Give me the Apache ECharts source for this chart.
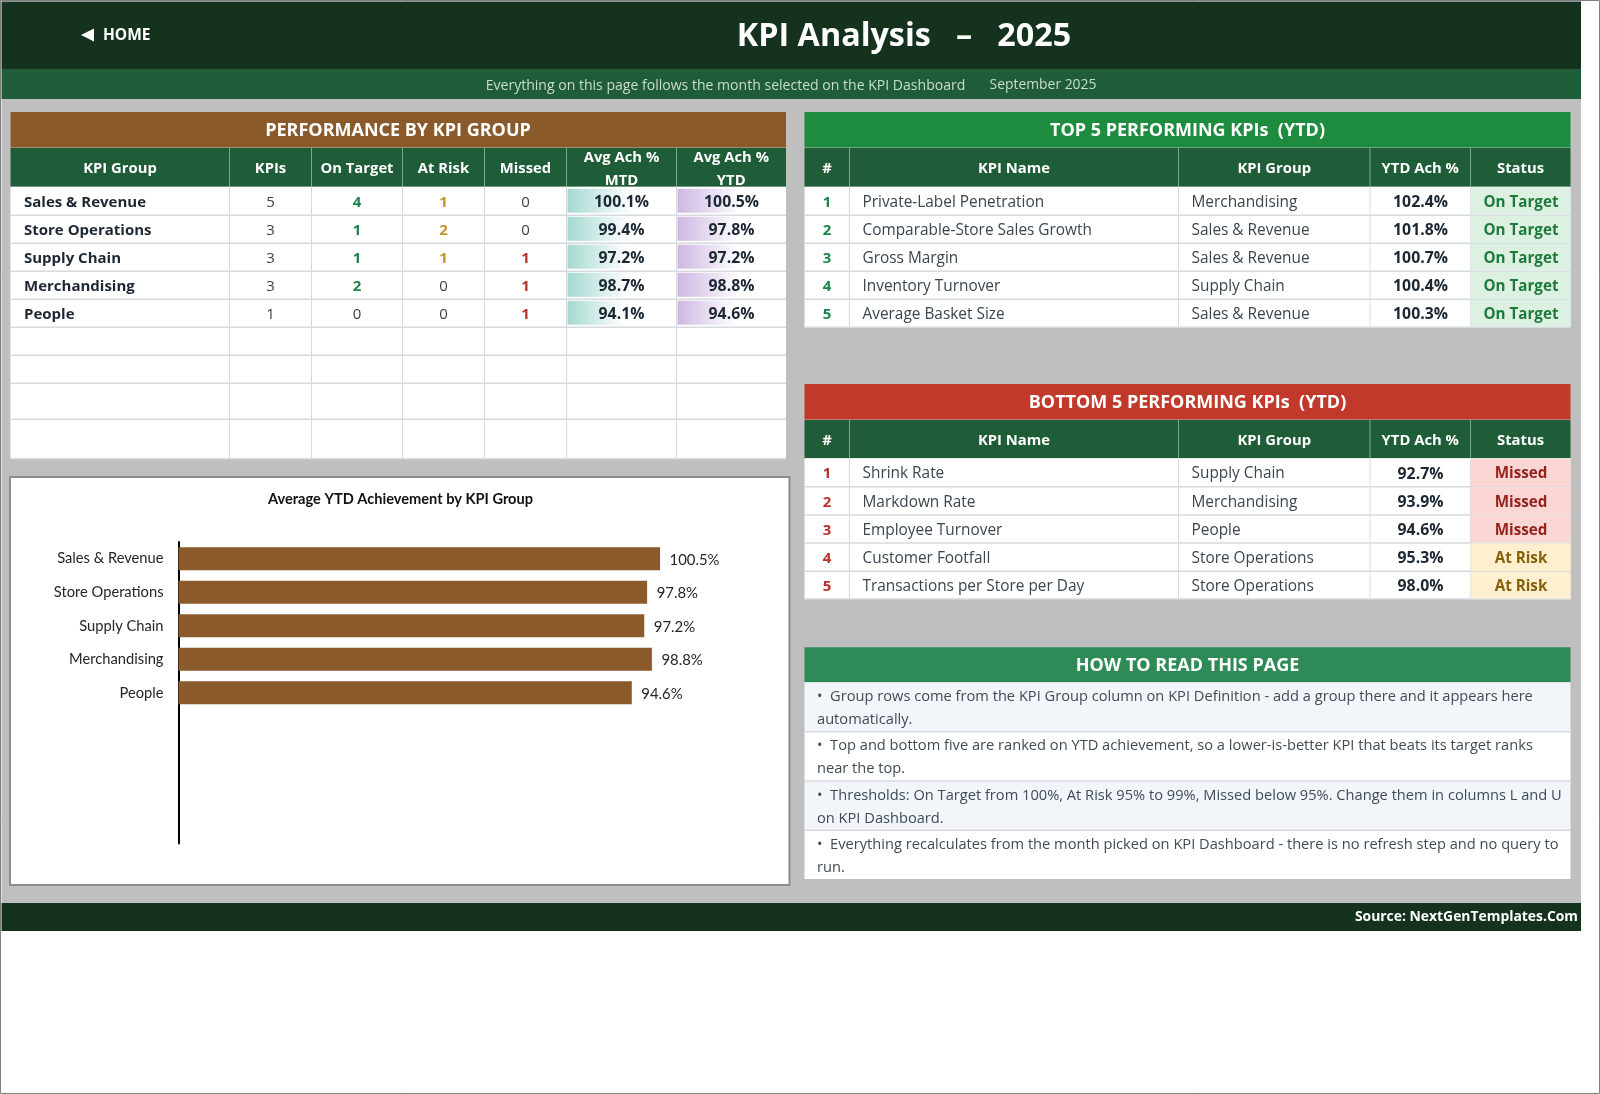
<!DOCTYPE html>
<html>
<head>
<meta charset="utf-8">
<title>KPI Analysis</title>
<style>
html,body{margin:0;padding:0;background:#fff;}
#main{width:1600px;height:1094px;}
</style>
<script src="https://cdn.jsdelivr.net/npm/echarts@6/dist/echarts.min.js"></script>
</head>
<body>
<div id="main"></div>
<script>
// performance by group
var groupNames = ['Sales & Revenue', 'Store Operations', 'Supply Chain', 'Merchandising', 'People'];
var groupKpis = [5, 3, 3, 3, 1];
var groupOnTarget = [4, 1, 1, 2, 0];
var groupAtRisk = [1, 2, 1, 0, 0];
var groupMissed = [0, 0, 1, 1, 1];
var groupMtd = [100.1, 99.4, 97.2, 98.7, 94.1];
var groupYtd = [100.5, 97.8, 97.2, 98.8, 94.6];
var groupHeaders = ['KPI Group', 'KPIs', 'On Target', 'At Risk', 'Missed', 'Avg Ach %\nMTD', 'Avg Ach %\nYTD'];

// top and bottom five
var rankHeaders = ['#', 'KPI Name', 'KPI Group', 'YTD Ach %', 'Status'];
var topNames = ['Private-Label Penetration', 'Comparable-Store Sales Growth', 'Gross Margin', 'Inventory Turnover', 'Average Basket Size'];
var topGroups = ['Merchandising', 'Sales & Revenue', 'Sales & Revenue', 'Supply Chain', 'Sales & Revenue'];
var topYtd = [102.4, 101.8, 100.7, 100.4, 100.3];
var topStatus = ['On Target', 'On Target', 'On Target', 'On Target', 'On Target'];
var bottomNames = ['Shrink Rate', 'Markdown Rate', 'Employee Turnover', 'Customer Footfall', 'Transactions per Store per Day'];
var bottomGroups = ['Supply Chain', 'Merchandising', 'People', 'Store Operations', 'Store Operations'];
var bottomYtd = [92.7, 93.9, 94.6, 95.3, 98.0];
var bottomStatus = ['Missed', 'Missed', 'Missed', 'At Risk', 'At Risk'];

// chart has room for nine groups, only five are used
var chartCategories = ['Sales & Revenue', 'Store Operations', 'Supply Chain', 'Merchandising', 'People', '', '', '', ''];
var chartValues = [100.5, 97.8, 97.2, 98.8, 94.6];

var notes = [
    ['•  Group rows come from the KPI Group column on KPI Definition - add a group there and it appears here', 'automatically.'],
    ['•  Top and bottom five are ranked on YTD achievement, so a lower-is-better KPI that beats its target ranks', 'near the top.'],
    ['•  Thresholds: On Target from 100%, At Risk 95% to 99%, Missed below 95%. Change them in columns L and U', 'on KPI Dashboard.'],
    ['•  Everything recalculates from the month picked on KPI Dashboard - there is no refresh step and no query to', 'run.']
];

var FONT = '"Open Sans"';
var CHART_FONT = 'Lato';
var els = [];

function box(x, y, w, h, fill, z) {
    els.push({type: 'rect', silent: true, z: z || 0, shape: {x: x, y: y, width: w, height: h}, style: {fill: fill}});
}
function line(x1, y1, x2, y2, color, width) {
    els.push({type: 'line', silent: true, z: 1, shape: {x1: x1, y1: y1, x2: x2, y2: y2}, style: {stroke: color, lineWidth: width || 1}});
}
// open sans sits a bit high, so everything moves down 1.5
function label(str, x, y, size, color, weight, align, family) {
    els.push({
        type: 'text', silent: true, z: 10, x: x, y: y + 1.5,
        style: {
            text: str, fill: color, fontSize: size, fontWeight: weight || 'normal',
            fontFamily: family || FONT, textAlign: align || 'center', textVerticalAlign: 'middle'
        }
    });
}

// one table header row, two line headers get squeezed like in the sheet
function headerRow(cols, top, bottom, titles) {
    box(cols[0], top, cols[cols.length - 1] - cols[0], bottom - top, '#1F5C38');
    for (var i = 0; i < titles.length; i++) {
        var cx = (cols[i] + cols[i + 1]) / 2;
        var parts = titles[i].split('\n');
        if (parts.length == 2) {
            label(parts[0], cx, top + 8, 14.8, '#fff', 'bold');
            label(parts[1], cx, top + 31, 14.8, '#fff', 'bold');
        } else {
            label(titles[i], cx, (top + bottom) / 2, 14.8, '#fff', 'bold');
        }
        if (i > 0) line(cols[i], top, cols[i], bottom, '#7FA78F', 1);
    }
}

function gridLines(cols, rows) {
    var i;
    for (i = 1; i < rows.length; i++) line(cols[0], rows[i], cols[cols.length - 1], rows[i], '#D6DAE0', 1.5);
    for (i = 1; i < cols.length - 1; i++) line(cols[i], rows[0], cols[i], rows[rows.length - 1], '#D6DAE0', 1);
}

function countColor(v, color) {
    return v > 0 ? color : '#3A3F45';
}

// page frame
box(1.5, 99, 1579.5, 804, '#BFBFBF');
box(1.5, 1.5, 1579.5, 67.5, '#15321F');
box(1.5, 69, 1579.5, 30, '#1F5C38');
box(1.5, 903, 1579.5, 28, '#15321F');
els.push({type: 'rect', silent: true, z: 20, shape: {x: 0.5, y: 0.5, width: 1599, height: 1093}, style: {fill: 'none', stroke: '#808080', lineWidth: 1}});

// header texts
els.push({type: 'polygon', silent: true, z: 10, shape: {points: [[81, 35], [94, 28.5], [94, 41.5]]}, style: {fill: '#fff'}});
label('HOME', 103, 34.5, 15.5, '#fff', 'bold', 'left');
label('KPI Analysis   –   2025', 904, 35.5, 32.3, '#fff', 'bold');
label('Everything on this page follows the month selected on the KPI Dashboard', 725.5, 84, 14.05, '#C9DDD0');
label('September 2025', 1043, 84, 13.9, '#C9DDD0');
label('Source: NextGenTemplates.Com', 1578, 916, 13.9, '#fff', 'bold', 'right');

// left table
var leftCols = [10.5, 229.5, 311.5, 402.5, 484.5, 566.5, 676.5, 786];
var leftRows = [186.7, 215.3, 243.3, 271.3, 299.3, 327.3, 355.3, 383.3, 419.3, 458.7];
box(10.5, 112, 775.5, 35.5, '#8B5A2B');
label('PERFORMANCE BY KPI GROUP', 398, 129.5, 18, '#fff', 'bold');
headerRow(leftCols, 148, 186.7, groupHeaders);
box(10.5, 186.7, 775.5, 272, '#fff');
gridLines(leftCols, leftRows);
groupNames.forEach(function (name, i) {
    var y = (leftRows[i] + leftRows[i + 1]) / 2;
    label(name, 24, y, 15, '#1C2733', 'bold', 'left');
    label(String(groupKpis[i]), 270.5, y, 15, '#3A3F45');
    label(String(groupOnTarget[i]), 357, y, 15, countColor(groupOnTarget[i], '#1E8449'), groupOnTarget[i] > 0 ? 'bold' : 'normal');
    label(String(groupAtRisk[i]), 443.5, y, 15, countColor(groupAtRisk[i], '#C8922A'), groupAtRisk[i] > 0 ? 'bold' : 'normal');
    label(String(groupMissed[i]), 525.5, y, 15, countColor(groupMissed[i], '#B8322A'), groupMissed[i] > 0 ? 'bold' : 'normal');
    label(groupMtd[i].toFixed(1) + '%', 621.5, y, 15.8, '#1C2733', 'bold');
    label(groupYtd[i].toFixed(1) + '%', 731.5, y, 15.8, '#1C2733', 'bold');
});

// ranked tables share the same columns
var rankCols = [804.5, 849.5, 1178.5, 1370, 1470.5, 1570.5];
var statusStyle = {
    'On Target': {fill: '#DDF1E3', color: '#1E7A3C'},
    'Missed': {fill: '#FAD7D5', color: '#94231C'},
    'At Risk': {fill: '#FDEFCF', color: '#876108'}
};
function rankTable(titleTop, titleColor, title, rows, names, groups, ytd, status, rankColor) {
    box(804.5, titleTop, 766, 35.5, titleColor);
    label(title, 1187.5, titleTop + 17.5, 18, '#fff', 'bold');
    headerRow(rankCols, titleTop + 36, rows[0], rankHeaders);
    box(804.5, rows[0], 766, rows[5] - rows[0], '#fff');
    gridLines(rankCols, rows);
    names.forEach(function (name, i) {
        var y = (rows[i] + rows[i + 1]) / 2;
        var st = statusStyle[status[i]];
        box(1470.5, rows[i] + 0.5, 100, rows[i + 1] - rows[i] - 1, st.fill, 2);
        label(String(i + 1), 827, y, 15, rankColor, 'bold');
        label(name, 862.5, y, 15.4, '#3A4650', 'normal', 'left');
        label(groups[i], 1191.5, y, 15.4, '#3A4650', 'normal', 'left');
        label(ytd[i].toFixed(1) + '%', 1420.5, y, 15.8, '#1C2733', 'bold');
        label(status[i], 1521, y, 15.2, st.color, 'bold');
    });
}
rankTable(112, '#1E8C3E', 'TOP 5 PERFORMING KPIs  (YTD)', [186.7, 215.3, 243.3, 271.3, 299.3, 327.3], topNames, topGroups, topYtd, topStatus, '#1E8449');
rankTable(384, '#C0392B', 'BOTTOM 5 PERFORMING KPIs  (YTD)', [458.3, 486.7, 515, 543, 571.3, 599], bottomNames, bottomGroups, bottomYtd, bottomStatus, '#B8322A');

// how to read
var noteRows = [682.3, 731.7, 781, 830.3, 879];
box(804.5, 647.3, 766, 35, '#2E8B57');
label('HOW TO READ THIS PAGE', 1187.5, 664.5, 18, '#fff', 'bold');
notes.forEach(function (lines, i) {
    box(804.5, noteRows[i], 766, noteRows[i + 1] - noteRows[i], i % 2 == 0 ? '#F2F6FA' : '#fff');
    if (i > 0) line(804.5, noteRows[i], 1570.5, noteRows[i], '#D6DAE0', 1.5);
    label(lines[0], 817, noteRows[i] + 13, 14.65, '#3F4B55', 'normal', 'left');
    label(lines[1], 817, noteRows[i] + 36, 14.65, '#3F4B55', 'normal', 'left');
});

// chart box
els.push({type: 'rect', silent: true, z: 0, shape: {x: 10, y: 477, width: 779.5, height: 408}, style: {fill: '#fff', stroke: '#8C8C8C', lineWidth: 2}});

function fadeBar(color) {
    return {type: 'linear', x: 0, y: 0, x2: 1, y2: 0, colorStops: [{offset: 0, color: color}, {offset: 1, color: '#ffffff'}]};
}

var myChart = echarts.init(document.getElementById('main'));
var option = {
    animation: false,
    title: {
        text: 'Average YTD Achievement by KPI Group',
        left: 395.5, top: 487, textAlign: 'center',
        textStyle: {fontSize: 14.6, fontWeight: 'bold', color: '#111', fontFamily: CHART_FONT}
    },
    grid: [
        {left: 178.5, top: 542, width: 575, height: 301.6},
        {left: 567.5, top: 186.7, width: 108, height: 140},
        {left: 677.5, top: 186.7, width: 108, height: 140}
    ],
    xAxis: [
        {gridIndex: 0, type: 'value', min: 0, max: 120, show: false},
        {gridIndex: 1, type: 'value', min: 52, max: 133, show: false},
        {gridIndex: 2, type: 'value', min: 46, max: 137, show: false}
    ],
    yAxis: [
        {
            gridIndex: 0, type: 'category', inverse: true, data: chartCategories,
            axisLine: {lineStyle: {color: '#000', width: 2}},
            axisTick: {show: false},
            axisLabel: {interval: 0, margin: 15, fontSize: 14.7, color: '#262626', fontFamily: CHART_FONT}
        },
        {gridIndex: 1, type: 'category', inverse: true, data: groupNames, show: false},
        {gridIndex: 2, type: 'category', inverse: true, data: groupNames, show: false}
    ],
    series: [
        {
            name: 'Average YTD Achievement', type: 'bar', xAxisIndex: 0, yAxisIndex: 0,
            barWidth: 23, data: chartValues,
            itemStyle: {color: '#8B5A2B'},
            label: {
                show: true, position: 'right', distance: 9.5, offset: [0, 1], fontSize: 14.9, color: '#262626', fontFamily: CHART_FONT,
                formatter: function (p) { return p.value.toFixed(1) + '%'; }
            }
        },
        {name: 'Avg Ach % MTD', type: 'bar', xAxisIndex: 1, yAxisIndex: 1, barWidth: 24, data: groupMtd, itemStyle: {color: fadeBar('#A6D9D2')}},
        {name: 'Avg Ach % YTD', type: 'bar', xAxisIndex: 2, yAxisIndex: 2, barWidth: 24, data: groupYtd, itemStyle: {color: fadeBar('#CDB8E3')}}
    ],
    graphic: {elements: els}
};
myChart.setOption(option);
</script>
</body>
</html>
